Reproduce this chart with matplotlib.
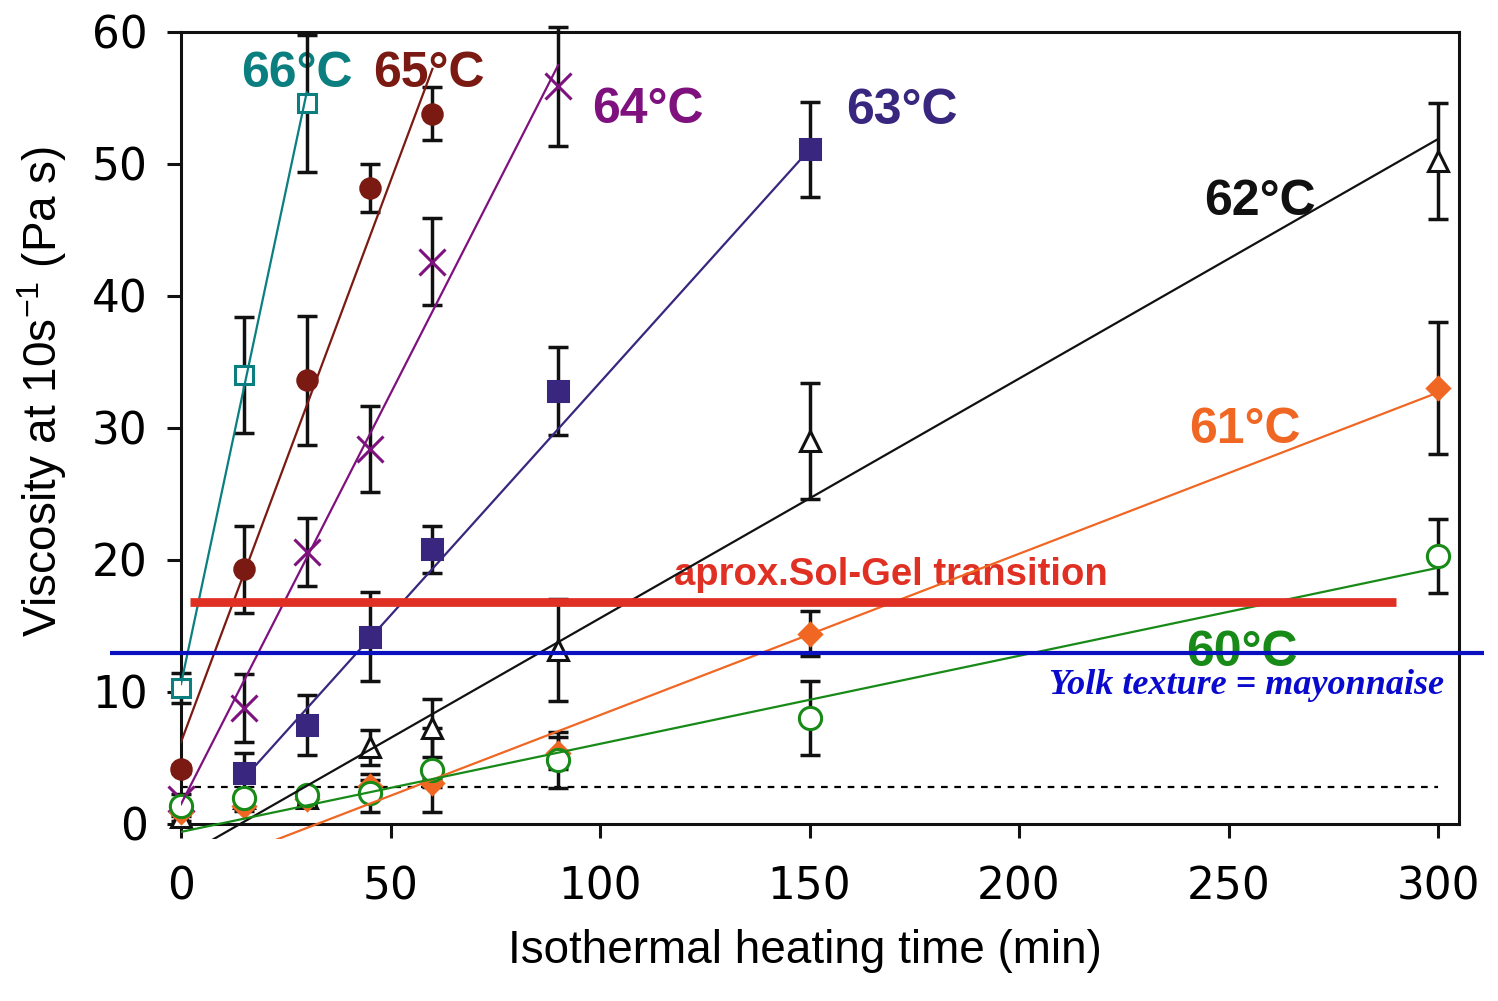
import numpy as np
import matplotlib.pyplot as plt

plt.rcParams['mathtext.fontset'] = 'custom'
plt.rcParams['mathtext.rm'] = 'Liberation Sans'
plt.rcParams['mathtext.it'] = 'Liberation Sans:italic'

# heating time (min) and viscosity (Pa s) with error bars, one set per temperature
t66 = [0, 15, 30]
v66 = [10.3, 34.0, 54.6]
e66 = [1.15, 4.4, 5.2]

t65 = [0, 15, 30, 45, 60]
v65 = [4.2, 19.3, 33.6, 48.2, 53.8]
e65 = [0.3, 3.3, 4.9, 1.8, 2.0]

t64 = [0, 15, 30, 45, 60, 90]
v64 = [1.9, 8.8, 20.6, 28.4, 42.6, 55.9]
e64 = [0.4, 2.6, 2.6, 3.25, 3.3, 4.5]

t63 = [15, 30, 45, 60, 90, 150]
v63 = [3.9, 7.5, 14.2, 20.8, 32.8, 51.1]
e63 = [1.5, 2.3, 3.4, 1.75, 3.35, 3.6]

t62 = [0, 15, 30, 45, 60, 90, 150, 300]
v62 = [0.5, 2.0, 2.0, 5.8, 7.3, 13.2, 29.0, 50.2]
e62 = [0.3, 0.4, 0.4, 1.3, 2.2, 3.85, 4.4, 4.4]

t61 = [0, 15, 30, 45, 60, 90, 150, 300]
v61 = [0.9, 1.4, 1.9, 2.9, 3.1, 5.4, 14.4, 33.0]
e61 = [0.3, 0.4, 0.4, 0.4, 0.3, 1.2, 1.7, 5.0]

t60 = [0, 15, 30, 45, 60, 90, 150, 300]
v60 = [1.4, 2.0, 2.2, 2.35, 4.1, 4.85, 8.0, 20.3]
e60 = [0.4, 0.4, 0.4, 1.45, 3.2, 2.15, 2.8, 2.8]

# linear fits: slope, intercept, x start, x end
fit66 = [1.494, 10.6, 0, 30]
fit65 = [0.85, 6.2, 0, 60]
fit64 = [0.622, 1.5, 0, 90]
fit63 = [0.353, -1.85, 16, 150]
fit62 = [0.1815, -2.56, 0, 300]
fit61 = [0.1222, -3.97, 0, 300]
fit60 = [0.0667, -0.6, 0, 300]

labels = ['66°C', '65°C', '64°C', '63°C', '62°C', '61°C', '60°C']
label_x = [27.7, 59.1, 111.4, 172.0, 257.6, 254.0, 253.3]
label_y = [55.8, 55.8, 53.1, 53.0, 46.1, 28.9, 12.0]

baseline_visc = 2.8
sol_gel_visc = 16.8
sol_gel_span = [2.1, 290]
mayo_visc = 12.95
mayo_span = [-17, 311]

series = [
    (t66, v66, e66, fit66, '#0b7f7f', 's', 'white', 13),
    (t65, v65, e65, fit65, '#7a1a12', 'o', None, 14),
    (t64, v64, e64, fit64, '#7f117f', 'x', None, 19),
    (t63, v63, e63, fit63, '#39267f', 's', None, 14),
    (t62, v62, e62, fit62, '#111111', '^', 'white', 15),
    (t61, v61, e61, fit61, '#f06724', 'D', None, 11),
    (t60, v60, e60, fit60, '#178a17', 'o', 'white', 16),
]

fig = plt.figure(figsize=(14.98, 10.01), dpi=100)
ax = fig.add_axes([181 / 1498, 1 - 838.5 / 1001, 1278 / 1498, 806.5 / 1001])

for (t, v, e, fit, col, mk, face, ms), lab, lx, ly in zip(series, labels, label_x, label_y):
    eb = ax.errorbar(t, v, yerr=e, fmt='none', ecolor='#111111', elinewidth=2.5,
                     capsize=7, capthick=2.5, zorder=3)
    for art in eb.lines[1] + eb.lines[2]:
        art.set_clip_on(False)
    ax.plot(t, v, linestyle='none', marker=mk, markersize=ms, color=col,
            markerfacecolor=face if face else col,
            markeredgewidth=2.2, zorder=4, clip_on=False)
    xs = np.array([fit[2], fit[3]])
    ax.plot(xs, fit[0] * xs + fit[1], color=col, linewidth=1.6, zorder=5)
    ax.text(lx, ly, lab, color=col, fontsize=36, fontweight='bold',
            family='Liberation Sans', ha='center', va='baseline', zorder=1)

ax.plot([0, 300], [baseline_visc, baseline_visc], color='black', linewidth=1.6,
        linestyle=(0, (3, 3)), zorder=2)

ax.plot(sol_gel_span, [sol_gel_visc, sol_gel_visc], color='#e03024',
        linewidth=6.3, solid_capstyle='butt', zorder=6)
ax.text(169.4, 18.1, 'aprox.Sol-Gel transition', color='#e03024', fontsize=27.5,
        fontweight='bold', family='Liberation Sans', ha='center', va='baseline', zorder=1)

ax.plot(mayo_span, [mayo_visc, mayo_visc], color='#0a0fbf', linewidth=3,
        solid_capstyle='butt', zorder=6, clip_on=False)
ax.text(254.2, 9.85, 'Yolk texture = mayonnaise', color='#0a0acf', fontsize=26,
        fontweight='bold', style='italic', family='Liberation Serif',
        ha='center', va='baseline', zorder=6)

ax.set_xlim(0, 305)
ax.set_ylim(-1.1, 60)
ax.set_xticks(np.arange(0, 301, 50))
ax.set_yticks(np.arange(0, 61, 10))

ax.spines['bottom'].set_position(('data', 0))
ax.spines['left'].set_bounds(0, 60)
ax.spines['right'].set_bounds(0, 60)
for sp in ax.spines.values():
    sp.set_linewidth(2.2)
    sp.set_color('#111111')

ax.tick_params(direction='out', length=10, width=2.2, color='#111111',
               labelsize=31.5, top=False, right=False)
ax.tick_params(axis='y', pad=14)
ax.tick_params(axis='x', pad=20)

ax.set_xlabel('Isothermal heating time (min)', fontsize=33, family='Liberation Sans')
ax.xaxis.set_label_coords(0.488, -0.112)
ax.set_ylabel('Viscosity at 10s$^{-1}$ (Pa s)', fontsize=33, family='Liberation Sans')
ax.yaxis.set_label_coords(-0.0875, 0.554)

plt.savefig('out.png', dpi=100)
